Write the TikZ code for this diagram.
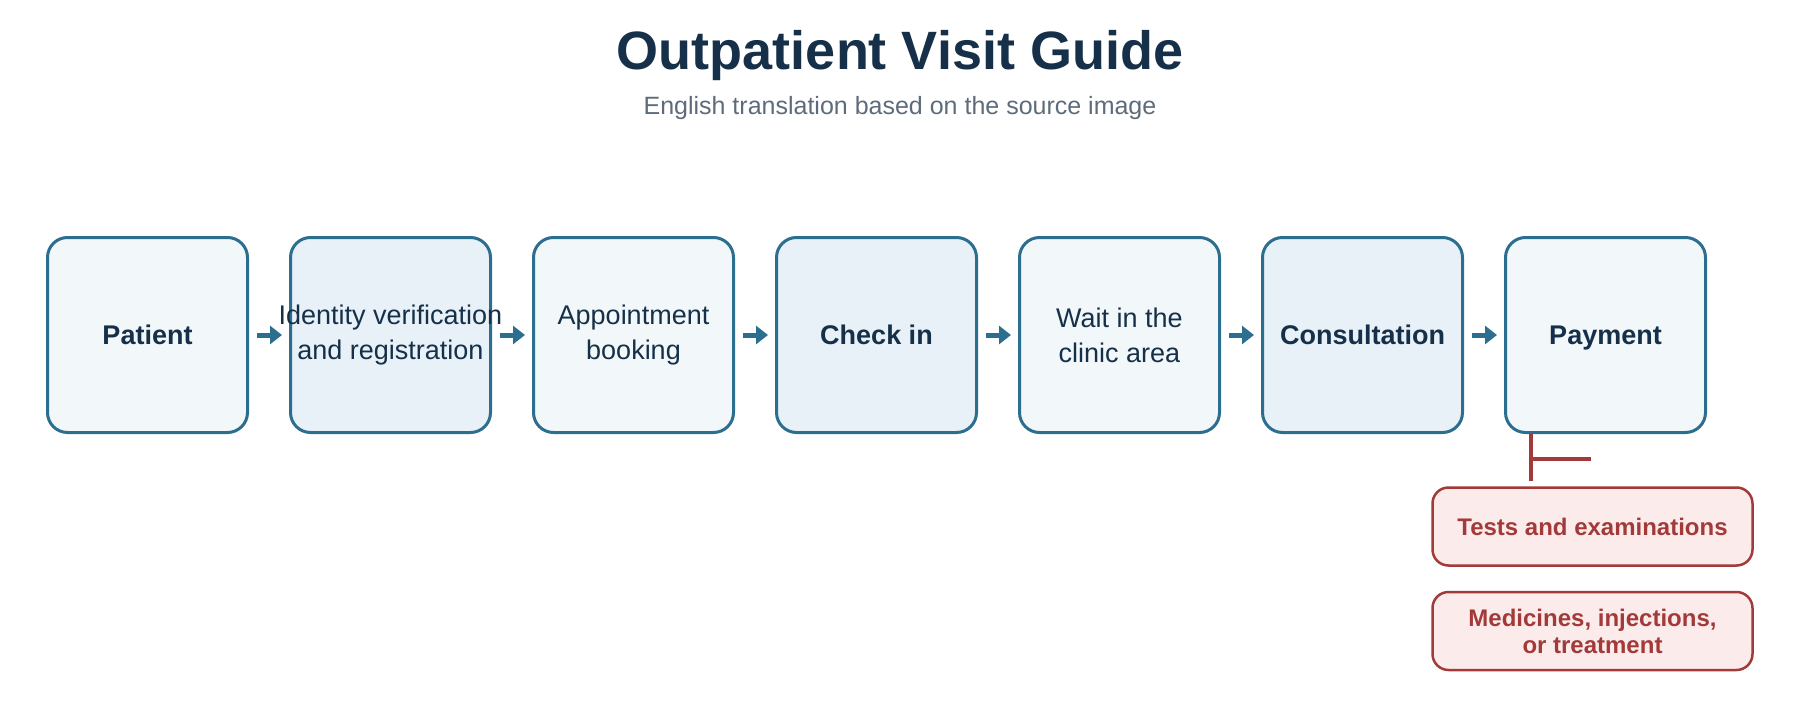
\documentclass[tikz,border=0pt]{standalone}
\usepackage{fontspec}
\setmainfont{Liberation Sans}
\usetikzlibrary{positioning,arrows.meta}
\definecolor{navy}{HTML}{163049}
\definecolor{stepblue}{HTML}{2C6E8F}
\definecolor{paleA}{HTML}{F2F7FA}
\definecolor{paleB}{HTML}{E8F1F8}
\definecolor{subgray}{HTML}{5D6B7A}
\definecolor{notered}{HTML}{A33A3A}
\definecolor{notefill}{HTML}{FCEBEB}

\tikzset{
    stepbox/.style={draw=stepblue, line width=3pt, rounded corners=20pt,
        minimum width=200pt, minimum height=195pt, inner sep=0pt,
        align=center, text=navy,
        font=\fontsize{27}{35}\selectfont},
    keystep/.style={font=\fontsize{27}{35}\selectfont\bfseries,
        text height=19.5pt, text depth=0pt},
    notebox/.style={draw=notered, fill=notefill, line width=2.5pt, rounded corners=16pt,
        minimum width=320pt, minimum height=78pt, inner sep=0pt,
        align=center, text=notered,
        font=\fontsize{24}{27}\selectfont\bfseries},
    flow/.style={stepblue, line width=5pt, -{Triangle[length=12pt,width=18pt]},
        shorten <=8pt, shorten >=7pt},
    branch/.style={notered, line width=4pt}
}

\begin{document}
\begin{tikzpicture}[x=1pt, y=-1pt]
                \useasboundingbox (0,0) rectangle (1800,720);

                %Titles
                \node[anchor=base, text=navy, font=\fontsize{54}{60}\selectfont\bfseries]
                    at (900,69) (title) {Outpatient Visit Guide};
                \node[anchor=base, text=subgray, font=\fontsize{25}{30}\selectfont]
                    at (900,114) (subtitle) {English translation based on the source image};

                %Nodes
                \node[stepbox, fill=paleA, keystep] at (147.5,335)  (patient) {Patient};
                \node[stepbox, fill=paleB]          at (390.5,335)  (reg)     {\makebox[0pt]{Identity verification}\\\makebox[0pt]{and registration}};
                \node[stepbox, fill=paleA]          at (633.5,335)  (book)    {Appointment\\booking};
                \node[stepbox, fill=paleB, keystep] at (876.5,335)  (checkin) {Check in};
                \node[stepbox, fill=paleA]          at (1119.5,335) (wait)    {Wait in the\\clinic area};
                \node[stepbox, fill=paleB, keystep] at (1362.5,335) (consult) {Consultation};
                \node[stepbox, fill=paleA, keystep] at (1605.5,335) (pay)     {Payment};

                \node[notebox] at (1592.5,526.5) (tests) {Tests and examinations};
                \node[notebox] at (1592.5,631)   (meds)  {Medicines, injections,\\or treatment};

                \coordinate (split)  at (1531,459);
                \coordinate (down)   at (1531,481);
                \coordinate (spur)   at (1591,459);

                %Lines
                \draw[flow] (patient) -- (reg);
                \draw[flow] (reg) -- (book);
                \draw[flow] (book) -- (checkin);
                \draw[flow] (checkin) -- (wait);
                \draw[flow] (wait) -- (consult);
                \draw[flow] (consult) -- (pay);

                \draw[branch] (pay.south -| split) -- (down);
                \draw[branch] (split) -- (spur);
            \end{tikzpicture}
\end{document}
